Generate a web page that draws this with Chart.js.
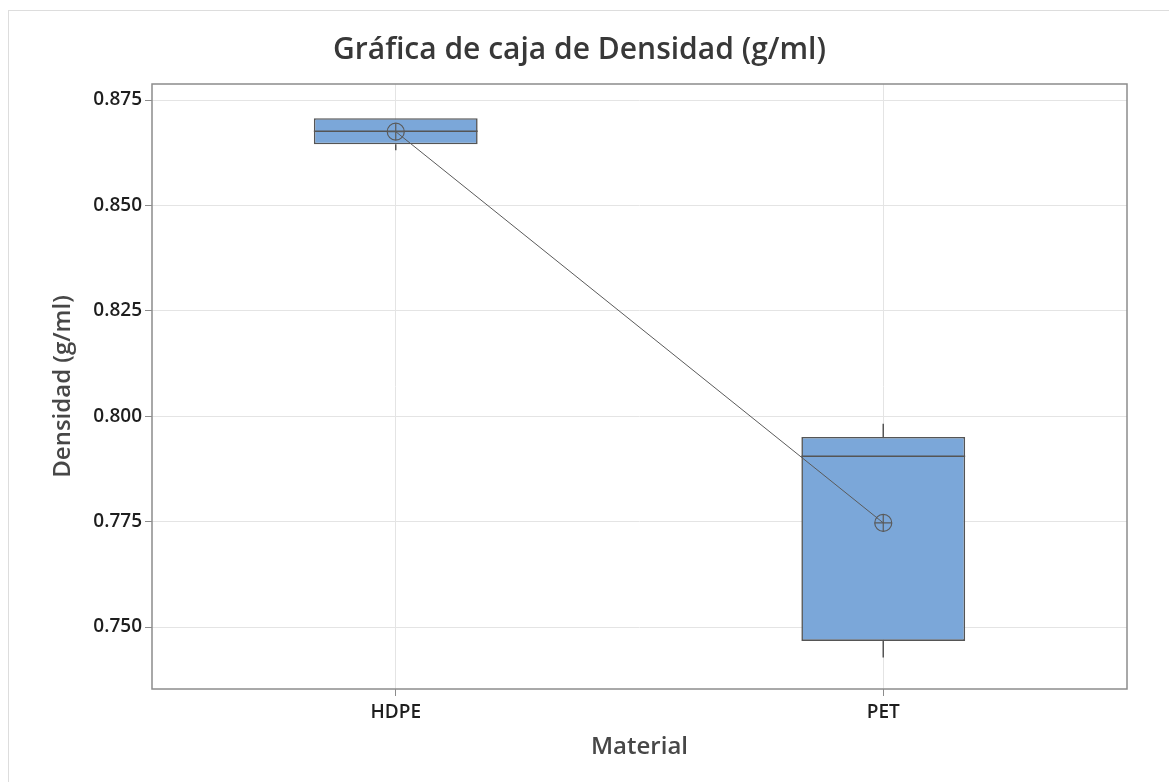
<!DOCTYPE html>
<html>
<head>
<meta charset="utf-8">
<script src="https://cdn.jsdelivr.net/npm/chart.js@4"></script>
<style>
  html, body { margin: 0; padding: 0; background: #fff; }
  #wrap { width: 1169px; height: 782px; position: relative; }
</style>
</head>
<body>
<div id="wrap"><canvas id="boxChart" width="1169" height="782"></canvas></div>
<script>
const materials = ["HDPE", "PET"];
const q1 = [0.8645, 0.7467];
const q3 = [0.8707, 0.7951];
const medians = [0.8676, 0.7905];
const whiskerLow = [0.8631, 0.7428];
const whiskerHigh = [0.8707, 0.7982];
const means = [0.8675, 0.7747];
const yTicks = [0.75, 0.775, 0.8, 0.825, 0.85, 0.875];
const yMin = 0.7353;
const yMax = 0.8788;

const FONT = "'Open Sans', 'Noto Sans', sans-serif";
const BOX_INDEX = 2;

// whiskers + medians drawn right after the boxes, through the chart scales
const boxExtras = {
  id: "boxExtras",
  afterDatasetDraw(chart, args) {
    if (args.index !== BOX_INDEX) return;
    const { ctx, scales: { y } } = chart;
    const meta = chart.getDatasetMeta(BOX_INDEX);
    ctx.save();
    ctx.strokeStyle = "#555555";
    ctx.lineWidth = 1.5;
    meta.data.forEach((bar, i) => {
      const half = bar.width / 2;
      ctx.beginPath();
      ctx.moveTo(bar.x - half, y.getPixelForValue(medians[i]));
      ctx.lineTo(bar.x + half, y.getPixelForValue(medians[i]));
      ctx.moveTo(bar.x, y.getPixelForValue(q3[i]));
      ctx.lineTo(bar.x, y.getPixelForValue(whiskerHigh[i]));
      ctx.moveTo(bar.x, y.getPixelForValue(q1[i]));
      ctx.lineTo(bar.x, y.getPixelForValue(whiskerLow[i]));
      ctx.stroke();
    });
    ctx.restore();
  },
};

const frame = {
  id: "frame",
  beforeDraw(chart) {
    const ctx = chart.ctx;
    ctx.save();
    ctx.strokeStyle = "#dddddd";
    ctx.lineWidth = 1;
    ctx.strokeRect(8.5, 10.5, 1300, 900);
    ctx.restore();
  },
  afterDraw(chart) {
    const { ctx, chartArea: a } = chart;
    ctx.save();
    ctx.strokeStyle = "#8c8c8c";
    ctx.lineWidth = 1.5;
    ctx.strokeRect(a.left, a.top, a.right - a.left, a.bottom - a.top);
    ctx.restore();
  },
};

new Chart(document.getElementById("boxChart"), {
  data: {
    labels: materials,
    datasets: [
      {
        type: "line",
        label: "Media",
        data: means,
        borderColor: "#5a5a5a",
        borderWidth: 1,
        pointStyle: "circle",
        pointRadius: 8.5,
        pointBorderWidth: 1.2,
        pointBorderColor: "#5a5a5a",
        pointBackgroundColor: "rgba(0,0,0,0)",
        order: 0,
      },
      {
        type: "line",
        label: "Media cruz",
        data: means,
        showLine: false,
        pointStyle: "cross",
        pointRadius: 8.5,
        pointBorderWidth: 1.2,
        pointBorderColor: "#5a5a5a",
        order: 0,
      },
      {
        type: "bar",
        label: "Caja",
        data: materials.map((_, i) => [q1[i], q3[i]]),
        backgroundColor: "#7ba7d9",
        borderColor: "#555555",
        borderWidth: 1.6,
        borderSkipped: false,
        barPercentage: 0.336,
        categoryPercentage: 1,
        order: 1,
      },
    ],
  },
  options: {
    responsive: false,
    animation: false,
    layout: { padding: { left: 0, right: 10, top: 0, bottom: 0 } },
    plugins: {
      legend: { display: false },
      tooltip: { enabled: false },
      title: {
        display: true,
        text: "Gráfica de caja de Densidad (g/ml)",
        color: "#383838",
        font: { family: FONT, size: 30, weight: "600", lineHeight: 1.2 },
        padding: { top: 32, bottom: 16 },
      },
    },
    scales: {
      x: {
        offset: true,
        grid: {
          offset: false,
          color: "#e4e4e4",
          tickColor: "#8c8c8c",
          tickLength: 7,
        },
        border: { display: false },
        ticks: {
          color: "#1e1e1e",
          padding: 5,
          font: { family: FONT, size: 19, weight: "600" },
        },
        title: {
          display: true,
          text: "Material",
          color: "#474747",
          font: { family: FONT, size: 24, weight: "600", lineHeight: 1.2 },
          padding: { top: 0, bottom: 20 },
        },
        afterFit(scale) {
          scale.height = 93;
        },
      },
      y: {
        min: yMin,
        max: yMax,
        grid: {
          color: "#e4e4e4",
          tickColor: "#8c8c8c",
          tickLength: 7,
        },
        border: { display: false },
        ticks: {
          color: "#1e1e1e",
          padding: 3,
          font: { family: FONT, size: 19, weight: "600" },
          callback: (value) => value.toFixed(3),
        },
        afterBuildTicks(scale) {
          scale.ticks = yTicks.map((v) => ({ value: v }));
        },
        title: {
          display: true,
          text: "Densidad (g/ml)",
          color: "#474747",
          font: { family: FONT, size: 24, weight: "600", lineHeight: 1.2 },
          padding: { top: 48.6, bottom: 0 },
        },
        afterFit(scale) {
          scale.width = 152;
        },
      },
      // empty right margin so the title centres over the whole figure
      spacer: {
        type: "linear",
        position: "right",
        display: true,
        grid: { display: false, drawTicks: false },
        border: { display: false },
        ticks: { display: false },
        afterFit(scale) {
          scale.width = 32;
        },
      },
    },
  },
  plugins: [boxExtras, frame],
});
</script>
</body>
</html>
